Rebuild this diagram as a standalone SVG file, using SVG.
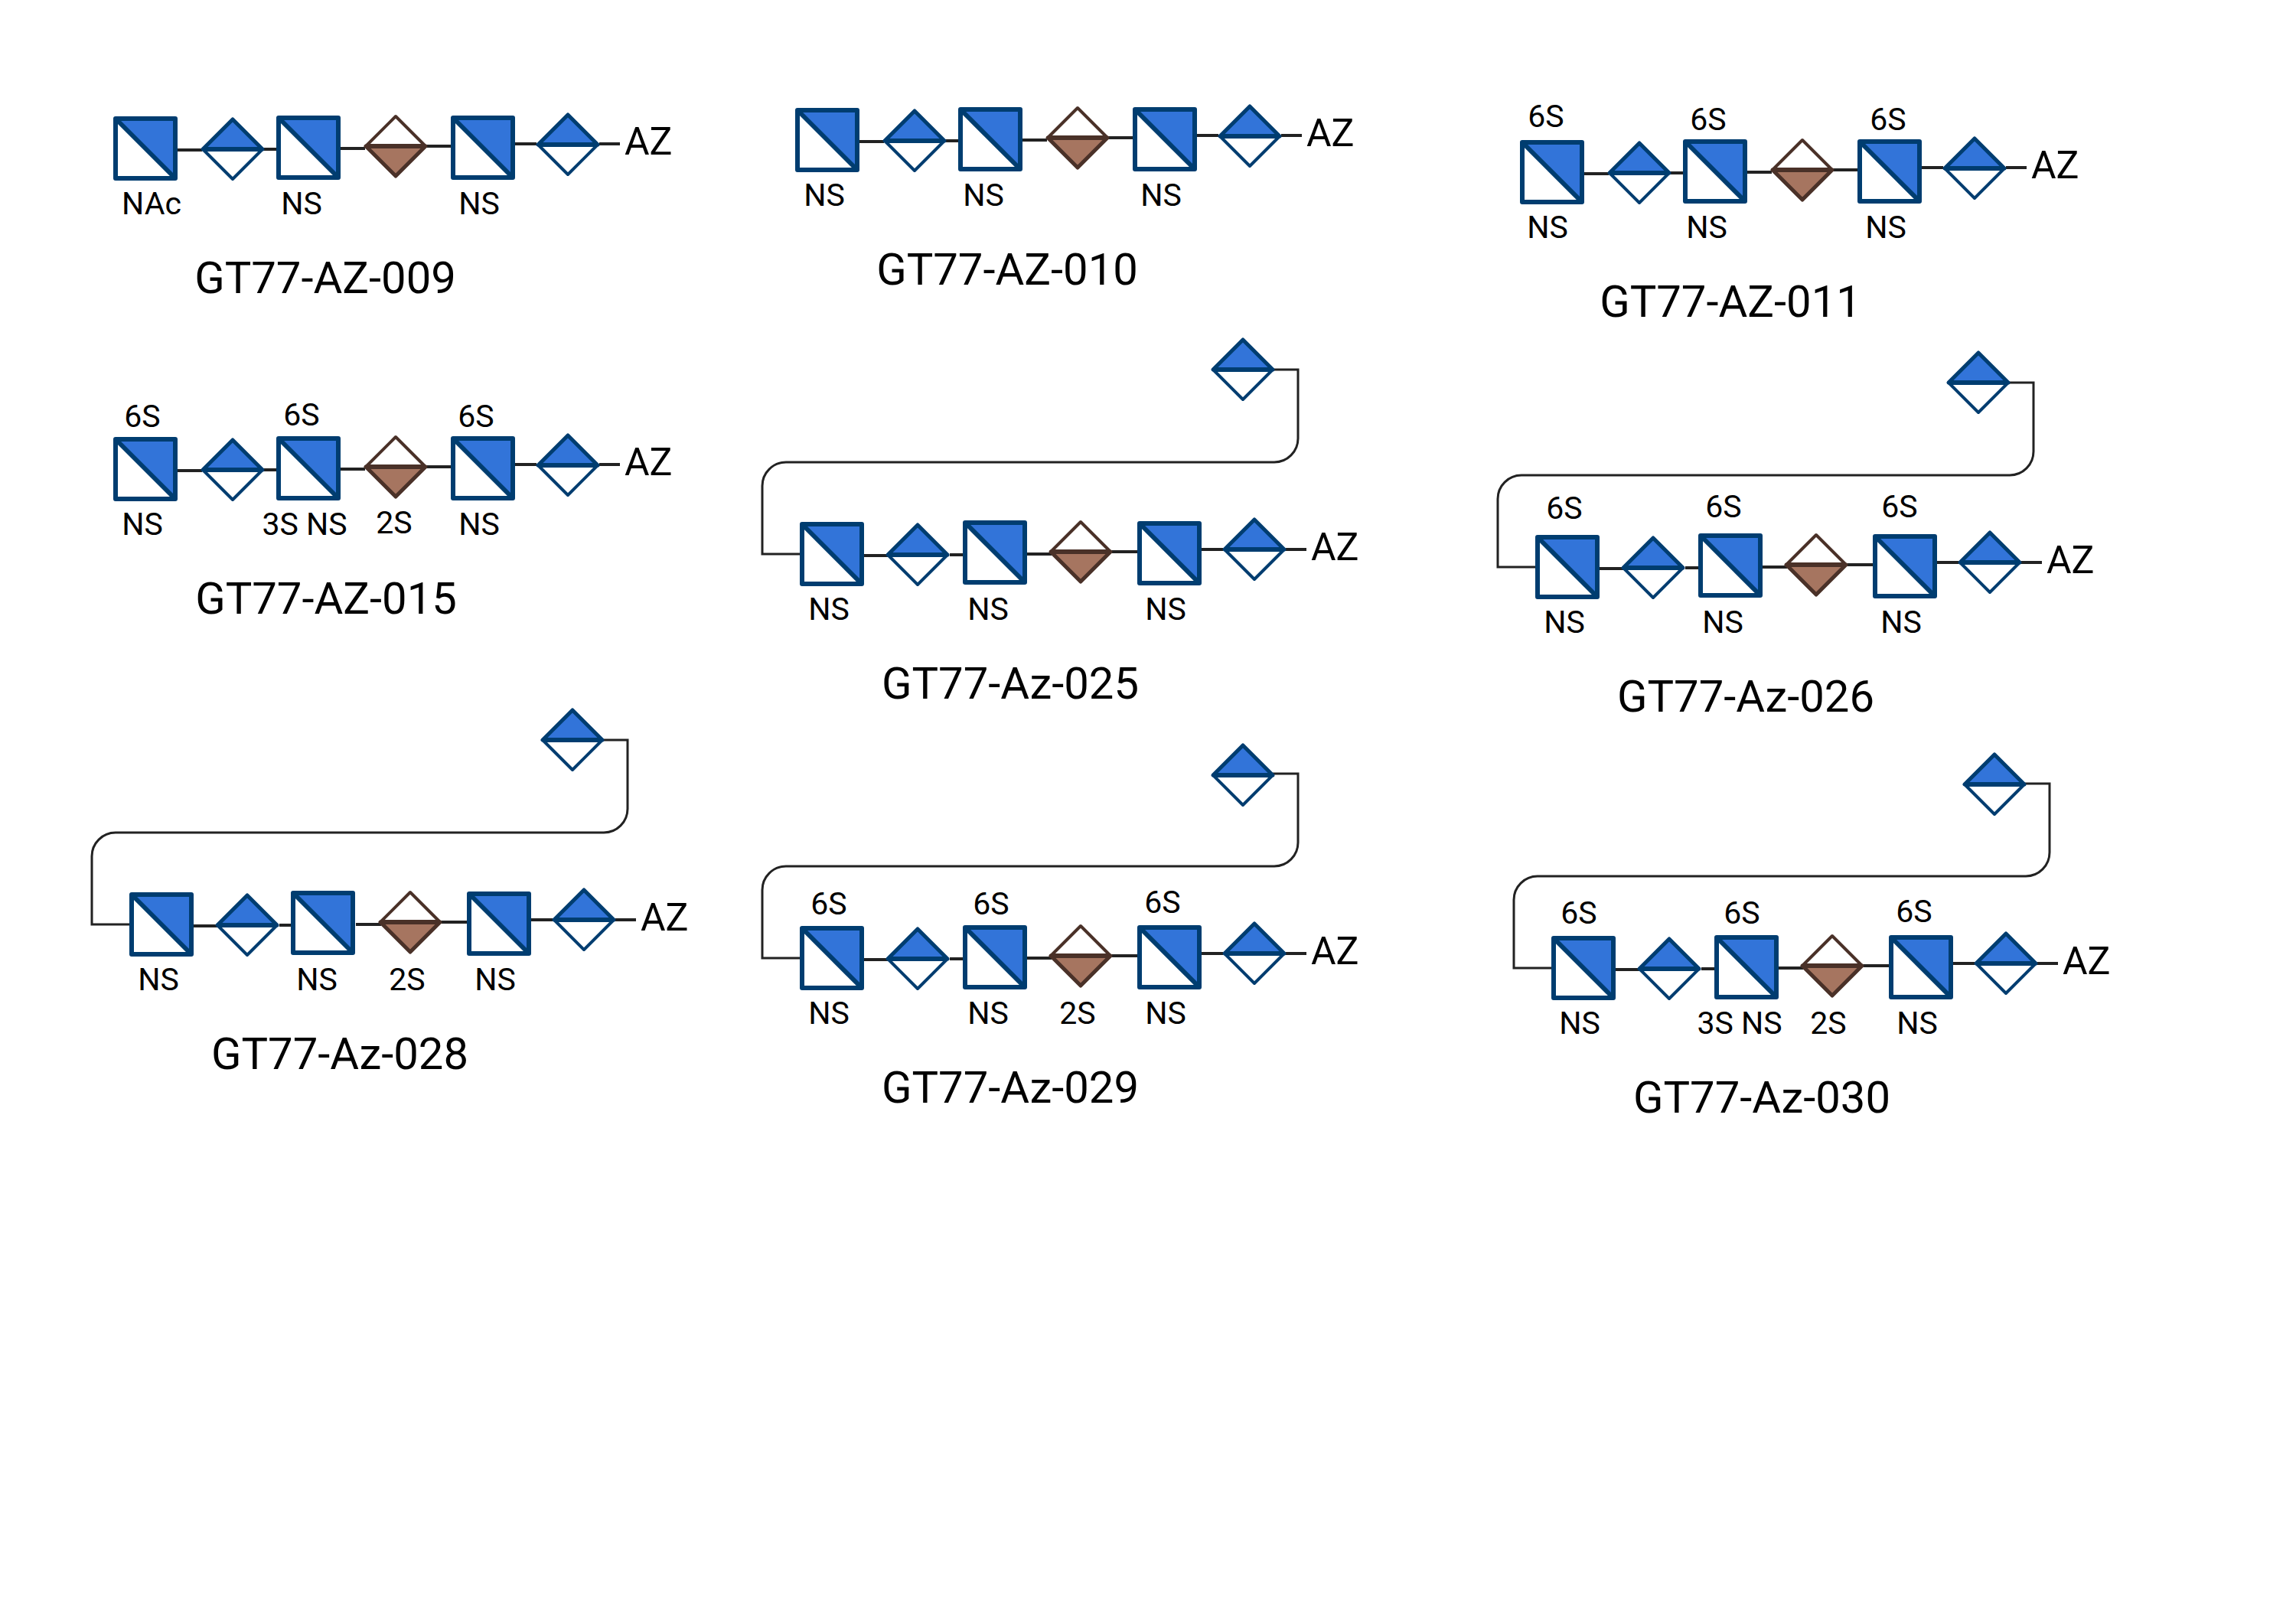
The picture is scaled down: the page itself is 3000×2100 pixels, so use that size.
<svg xmlns="http://www.w3.org/2000/svg" xmlns:xlink="http://www.w3.org/1999/xlink" width="3000" height="2100" viewBox="0 0 3000 2100">
<style>
text{font-family:Roboto,"Liberation Sans",sans-serif;fill:#000}
.l{font-size:41px;text-anchor:middle}
.az{font-size:50px}
.t{font-size:58px;text-anchor:middle}
.c{fill:none;stroke:#222;stroke-width:4}
.lp{fill:none;stroke:#222;stroke-width:3}
.b{stroke:#003d70;stroke-linejoin:round}
.r{stroke:#4a3128;stroke-linejoin:round}
</style>
<defs>
<g id="sq"><rect width="78" height="78" fill="#fff" stroke="none"/><polygon points="0,0 78,0 78,78" fill="#3274d9"/><path d="M0,0H78V78H0Z" fill="none" class="b" stroke-width="6"/><path d="M0,0L78,78" class="b" stroke-width="6"/></g>
<g id="dia"><polygon points="-39,0 39,0 0,39" fill="#fff" class="b" stroke-width="4"/><polygon points="-39,0 39,0 0,-39" fill="#3274d9" class="b" stroke-width="5"/><path d="M-39,0H39" class="b" stroke-width="6"/></g>
<g id="bro"><polygon points="-39,0 39,0 0,-39" fill="#fff" class="r" stroke-width="4"/><polygon points="-39,0 39,0 0,39" fill="#a67560" class="r" stroke-width="5"/><path d="M-39,0H39" class="r" stroke-width="6"/></g>
<path id="chain" d="M232,196H264M344,195H361M444,194H477M556,191H589M673,188H701M783,188H810"/>
<path id="loop" d="M766,-47H799V43A31,31 0 0 1 768,74H130A31,31 0 0 0 99,105V194H148"/>
</defs>

<g id="g009">
<g id="g009-connectors" class="c"><use href="#chain"/></g>
<g id="g009-n1" transform="translate(151,155)"><use href="#sq"/></g>
<g id="g009-n2" transform="translate(304,195)"><use href="#dia"/></g>
<g id="g009-n3" transform="translate(364,154)"><use href="#sq"/></g>
<g id="g009-n4" transform="translate(517,191)"><use href="#bro"/></g>
<g id="g009-n5" transform="translate(592,154)"><use href="#sq"/></g>
<g id="g009-n6" transform="translate(742,189)"><use href="#dia"/></g>
<text class="l" x="198" y="280">NAc</text><text class="l" x="394" y="280">NS</text><text class="l" x="626" y="280">NS</text>
<text class="az" x="816" y="202">AZ</text><text class="t" x="425" y="383">GT77-AZ-009</text>
</g>

<g id="g010" transform="translate(891,-11)">
<g id="g010-connectors" class="c"><use href="#chain"/></g>
<g id="g010-n1" transform="translate(151,155)"><use href="#sq"/></g>
<g id="g010-n2" transform="translate(304,195)"><use href="#dia"/></g>
<g id="g010-n3" transform="translate(364,154)"><use href="#sq"/></g>
<g id="g010-n4" transform="translate(517,191)"><use href="#bro"/></g>
<g id="g010-n5" transform="translate(592,154)"><use href="#sq"/></g>
<g id="g010-n6" transform="translate(742,189)"><use href="#dia"/></g>
<text class="l" x="186" y="280">NS</text><text class="l" x="394" y="280">NS</text><text class="l" x="626" y="280">NS</text>
<text class="az" x="816" y="202">AZ</text><text class="t" x="425" y="383">GT77-AZ-010</text>
</g>

<g id="g011" transform="translate(1838,31)">
<g id="g011-connectors" class="c"><use href="#chain"/></g>
<g id="g011-n1" transform="translate(151,155)"><use href="#sq"/></g>
<g id="g011-n2" transform="translate(304,195)"><use href="#dia"/></g>
<g id="g011-n3" transform="translate(364,154)"><use href="#sq"/></g>
<g id="g011-n4" transform="translate(517,191)"><use href="#bro"/></g>
<g id="g011-n5" transform="translate(592,154)"><use href="#sq"/></g>
<g id="g011-n6" transform="translate(742,189)"><use href="#dia"/></g>
<text class="l" x="182" y="135">6S</text><text class="l" x="394" y="139">6S</text><text class="l" x="629" y="139">6S</text>
<text class="l" x="184" y="280">NS</text><text class="l" x="392" y="280">NS</text><text class="l" x="626" y="280">NS</text>
<text class="az" x="816" y="202">AZ</text><text class="t" x="423" y="383">GT77-AZ-011</text>
</g>

<g id="g015" transform="translate(0,419)">
<g id="g015-connectors" class="c"><use href="#chain"/></g>
<g id="g015-n1" transform="translate(151,155)"><use href="#sq"/></g>
<g id="g015-n2" transform="translate(304,195)"><use href="#dia"/></g>
<g id="g015-n3" transform="translate(364,154)"><use href="#sq"/></g>
<g id="g015-n4" transform="translate(517,191)"><use href="#bro"/></g>
<g id="g015-n5" transform="translate(592,154)"><use href="#sq"/></g>
<g id="g015-n6" transform="translate(742,189)"><use href="#dia"/></g>
<text class="l" x="186" y="139">6S</text><text class="l" x="394" y="137">6S</text><text class="l" x="622" y="139">6S</text>
<text class="l" x="186" y="280">NS</text><text class="l" x="398" y="280">3S NS</text><text class="l" x="515" y="278">2S</text><text class="l" x="626" y="280">NS</text>
<text class="az" x="816" y="202">AZ</text><text class="t" x="426" y="383">GT77-AZ-015</text>
</g>

<g id="g025" transform="translate(897,530)">
<g id="g025-connectors"><use href="#chain" class="c"/><use href="#loop" class="lp"/></g>
<g id="g025-n0" transform="translate(727,-47)"><use href="#dia"/></g>
<g id="g025-n1" transform="translate(151,155)"><use href="#sq"/></g>
<g id="g025-n2" transform="translate(302,195)"><use href="#dia"/></g>
<g id="g025-n3" transform="translate(364,153)"><use href="#sq"/></g>
<g id="g025-n4" transform="translate(515,191)"><use href="#bro"/></g>
<g id="g025-n5" transform="translate(592,154)"><use href="#sq"/></g>
<g id="g025-n6" transform="translate(742,188)"><use href="#dia"/></g>
<text class="l" x="186" y="280">NS</text><text class="l" x="394" y="280">NS</text><text class="l" x="626" y="280">NS</text>
<text class="az" x="816" y="202">AZ</text><text class="t" x="423" y="383">GT77-Az-025</text>
</g>

<g id="g026" transform="translate(1858,547)">
<g id="g026-connectors"><use href="#chain" class="c"/><use href="#loop" class="lp"/></g>
<g id="g026-n0" transform="translate(727,-47)"><use href="#dia"/></g>
<g id="g026-n1" transform="translate(151,155)"><use href="#sq"/></g>
<g id="g026-n2" transform="translate(302,195)"><use href="#dia"/></g>
<g id="g026-n3" transform="translate(364,153)"><use href="#sq"/></g>
<g id="g026-n4" transform="translate(515,191)"><use href="#bro"/></g>
<g id="g026-n5" transform="translate(592,154)"><use href="#sq"/></g>
<g id="g026-n6" transform="translate(742,188)"><use href="#dia"/></g>
<text class="l" x="186" y="131">6S</text><text class="l" x="394" y="129">6S</text><text class="l" x="624" y="129">6S</text>
<text class="l" x="186" y="280">NS</text><text class="l" x="393" y="280">NS</text><text class="l" x="626" y="280">NS</text>
<text class="az" x="816" y="202">AZ</text><text class="t" x="423" y="383">GT77-Az-026</text>
</g>

<g id="g028" transform="translate(21,1014)">
<g id="g028-connectors"><use href="#chain" class="c"/><use href="#loop" class="lp"/></g>
<g id="g028-n0" transform="translate(727,-47)"><use href="#dia"/></g>
<g id="g028-n1" transform="translate(151,155)"><use href="#sq"/></g>
<g id="g028-n2" transform="translate(302,195)"><use href="#dia"/></g>
<g id="g028-n3" transform="translate(362,153)"><use href="#sq"/></g>
<g id="g028-n4" transform="translate(515,191)"><use href="#bro"/></g>
<g id="g028-n5" transform="translate(592,154)"><use href="#sq"/></g>
<g id="g028-n6" transform="translate(742,188)"><use href="#dia"/></g>
<text class="l" x="186" y="280">NS</text><text class="l" x="393" y="280">NS</text><text class="l" x="511" y="280">2S</text><text class="l" x="626" y="280">NS</text>
<text class="az" x="816" y="202">AZ</text><text class="t" x="423" y="383">GT77-Az-028</text>
</g>

<g id="g029" transform="translate(897,1058)">
<g id="g029-connectors"><use href="#chain" class="c"/><use href="#loop" class="lp"/></g>
<g id="g029-n0" transform="translate(727,-45)"><use href="#dia"/></g>
<g id="g029-n1" transform="translate(151,155)"><use href="#sq"/></g>
<g id="g029-n2" transform="translate(302,195)"><use href="#dia"/></g>
<g id="g029-n3" transform="translate(364,154)"><use href="#sq"/></g>
<g id="g029-n4" transform="translate(515,191)"><use href="#bro"/></g>
<g id="g029-n5" transform="translate(592,154)"><use href="#sq"/></g>
<g id="g029-n6" transform="translate(742,188)"><use href="#dia"/></g>
<text class="l" x="186" y="137">6S</text><text class="l" x="398" y="137">6S</text><text class="l" x="622" y="135">6S</text>
<text class="l" x="186" y="280">NS</text><text class="l" x="394" y="280">NS</text><text class="l" x="511" y="280">2S</text><text class="l" x="626" y="280">NS</text>
<text class="az" x="816" y="202">AZ</text><text class="t" x="423" y="383">GT77-Az-029</text>
</g>

<g id="g030" transform="translate(1879,1071)">
<g id="g030-connectors"><use href="#chain" class="c"/><use href="#loop" class="lp"/></g>
<g id="g030-n0" transform="translate(727,-46)"><use href="#dia"/></g>
<g id="g030-n1" transform="translate(151,155)"><use href="#sq"/></g>
<g id="g030-n2" transform="translate(302,195)"><use href="#dia"/></g>
<g id="g030-n3" transform="translate(364,154)"><use href="#sq"/></g>
<g id="g030-n4" transform="translate(515,191)"><use href="#bro"/></g>
<g id="g030-n5" transform="translate(592,154)"><use href="#sq"/></g>
<g id="g030-n6" transform="translate(742,188)"><use href="#dia"/></g>
<text class="l" x="184" y="136">6S</text><text class="l" x="397" y="136">6S</text><text class="l" x="622" y="134">6S</text>
<text class="l" x="185" y="280">NS</text><text class="l" x="394" y="280">3S NS</text><text class="l" x="510" y="280">2S</text><text class="l" x="626" y="280">NS</text>
<text class="az" x="816" y="202">AZ</text><text class="t" x="423" y="383">GT77-Az-030</text>
</g>
</svg>
